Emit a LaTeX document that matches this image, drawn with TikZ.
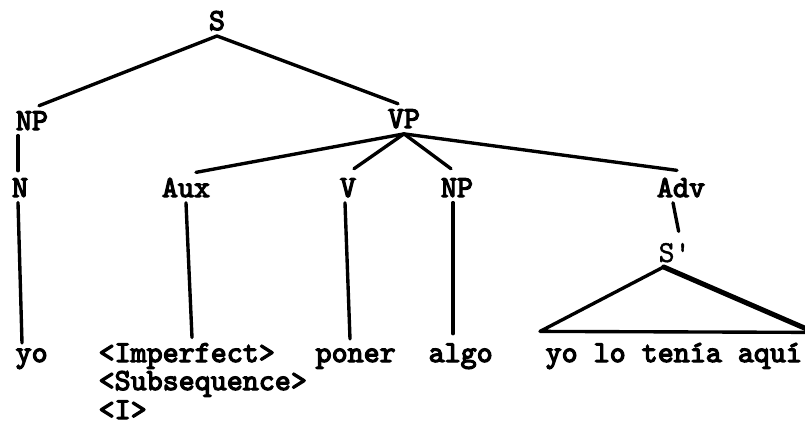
\documentclass[tikz,border=0pt]{standalone}
\usepackage{fontspec}
\newfontfamily\typewriter{lmmono10-regular.otf}[FakeBold=1.2]
\newfontfamily\typewriterheavy{lmmono10-regular.otf}[FakeBold=4]
\usetikzlibrary{calc}
\newcommand{\twsize}{\fontsize{21.7}{26}\selectfont}
\tikzset{
  cat/.style={font=\typewriterheavy\twsize, inner sep=0pt, outer sep=4pt, anchor=base},
  catlight/.style={cat, font=\typewriter\twsize},
  leaf/.style={cat, anchor=base west},
  branch/.style={line width=2.4pt, line cap=round},
  heavy/.style={branch, line width=3.6pt},
}

\begin{document}
\begin{tikzpicture}[x=0.025cm, y=-0.025cm]
  \useasboundingbox (0,0) rectangle (805,428);

  % CATEGORIES
  \node[cat] (s_top) at (217,30) {S};
  \node[cat] (np_subj) at (32,130) {NP};
  \node[cat] (vp) at (404,128) {VP};
  \node[cat] (n_subj) at (20,197) {N};
  \node[cat] (aux) at (186,197) {Aux};
  \node[cat] (v) at (348,197) {V};
  \node[cat] (np_obj) at (457,197) {NP};
  \node[cat] (adv) at (681,197) {Adv};
  \node[catlight, anchor=base west] (s_emb) at (653,262) {S'};

  % LEAVES
  \node[leaf] (leaf_yo) at (10,362) {yo};
  \node[leaf] (leaf_imperf) at (93,362) {<Imperfect>};
  \node[leaf] (leaf_subseq) at ($(leaf_imperf.base west)+(0,28)$) {<Subsequence>};
  \node[leaf] (leaf_i) at ($(leaf_subseq.base west)+(0,29)$) {<I>};
  \node[leaf] (leaf_poner) at (310,362) {poner};
  \node[leaf] (leaf_algo) at (423,362) {algo};
  \node[leaf] (leaf_tenia) at (540,362) {yo lo tenía aquí};

  \coordinate (s_emb_foot) at ($(s_emb.south)+(-11,-1)$);
  \coordinate (tri_l) at ($(leaf_tenia.north west)+(0,-6)$);
  \coordinate (tri_r) at ($(leaf_tenia.north east)+(7,-5)$);

  % BRANCHES
  \draw[branch] (s_top.south) -- ($(np_subj.north)+(7,0)$);
  \draw[branch] (s_top.south) -- ($(vp.north)+(-6,0)$);
  \draw[branch] ($(np_subj.south)+(-14,0)$) -- ($(n_subj.north)+(-2,-2)$);
  \draw[branch] ($(n_subj.south)+(-2,0)$) -- ($(leaf_yo.north west)+(12,0)$);
  \draw[branch] (vp.south) -- ($(aux.north)+(10,0)$);
  \draw[branch] (vp.south) -- ($(v.north)+(6,-4)$);
  \draw[branch] (vp.south) -- ($(np_obj.north)+(-6,-4)$);
  \draw[branch] (vp.south) -- ($(adv.north)+(-4,-2)$);
  \draw[branch] (aux.south) -- ($(leaf_imperf.north west)+(99,0)$);
  \draw[branch] ($(v.south)+(-3,0)$) -- ($(leaf_poner.north west)+(40,-4)$);
  \draw[branch] ($(np_obj.south)+(-4,0)$) -- ($(leaf_algo.north west)+(30,-4)$);
  \draw[branch] ($(adv.south)+(-8,0)$) -- ($(s_emb.north)+(4,-6)$);

  % S' TRIANGLE
  \draw[branch, line join=round] (s_emb_foot) -- (tri_l) -- (tri_r);
  \draw[heavy] (s_emb_foot) -- (tri_r);
\end{tikzpicture}
\end{document}
